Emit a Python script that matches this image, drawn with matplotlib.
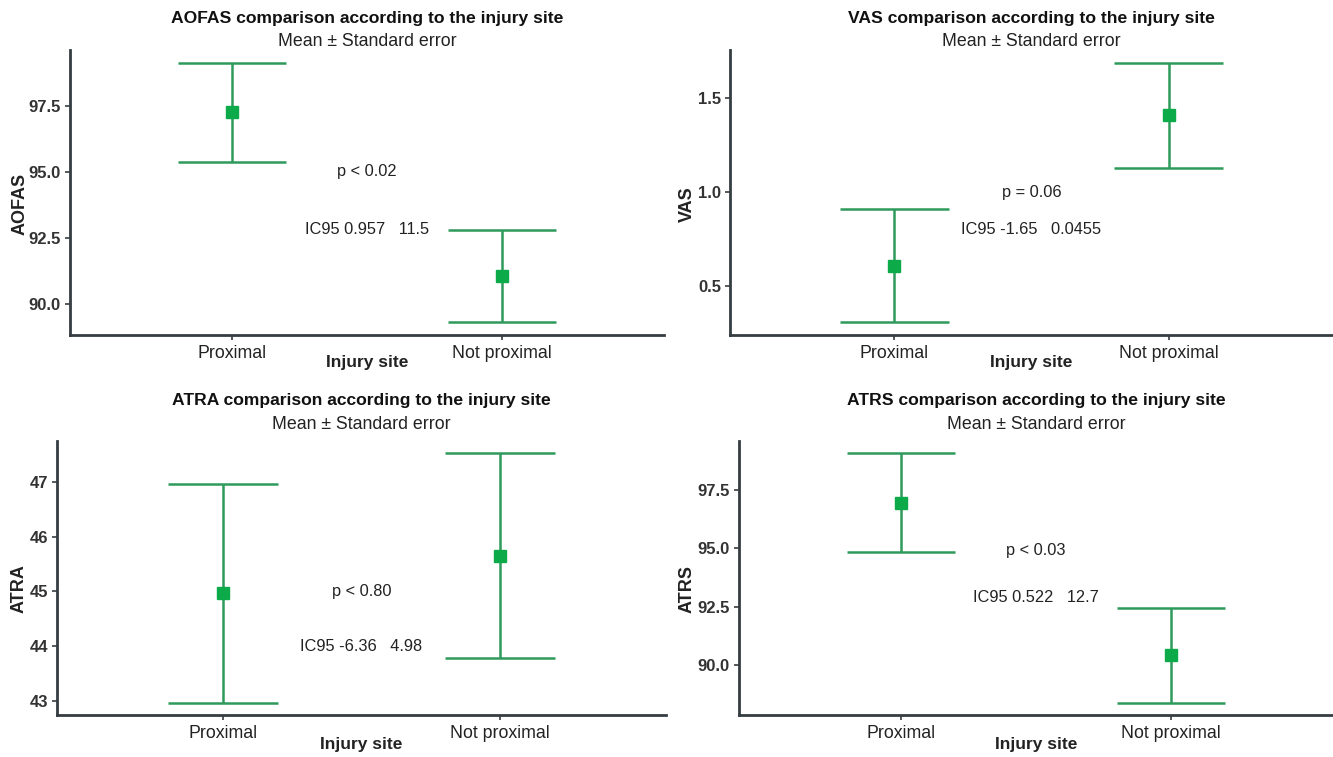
import matplotlib
matplotlib.use("Agg")
import matplotlib.pyplot as plt
from matplotlib import font_manager

# data (mean and standard error per injury site)
sites = ["Proximal", "Not proximal"]

aofas_mean = [97.25, 91.05]
aofas_se = [1.87, 1.74]
vas_mean = [0.606, 1.41]
vas_se = [0.301, 0.28]
atra_mean = [44.97, 45.65]
atra_se = [1.995, 1.865]
atrs_mean = [96.97, 90.40]
atrs_se = [2.12, 2.03]

p_texts = ["p < 0.02", "p = 0.06", "p < 0.80", "p < 0.03"]
ic_texts = ["IC95 0.957   11.5", "IC95 -1.65   0.0455", "IC95 -6.36   4.98", "IC95 0.522   12.7"]

aofas_ticks = [90.0, 92.5, 95.0, 97.5]
vas_ticks = [0.5, 1.0, 1.5]
atra_ticks = [43, 44, 45, 46, 47]
atrs_ticks = [90.0, 92.5, 95.0, 97.5]

available = {f.name for f in font_manager.fontManager.ttflist}
font = "Liberation Sans" if "Liberation Sans" in available else "DejaVu Sans"
plt.rcParams["font.family"] = font

LINE = "#2f9a5c"
MARK = "#0daa4a"
AXC = "#363d42"
W, H = 1333, 757

fig = plt.figure(figsize=(W / 100, H / 100), dpi=100)

# name, means, se, ticks, tick format, stat text y, panel box in pixels (left, right, top, bottom),
# title/subtitle y, x label y, y label x (pixels)
panels = [
    ("AOFAS", aofas_mean, aofas_se, aofas_ticks, "{:.1f}", (95.0, 92.8), (70, 664, 50, 335), (18, 41), 362, 20),
    ("VAS", vas_mean, vas_se, vas_ticks, "{:.1f}", (1.0, 0.80), (730, 1333, 50, 335), (18, 41), 362, 687),
    ("ATRA", atra_mean, atra_se, atra_ticks, "{:d}", (45.0, 44.0), (57, 666, 441, 715), (400, 424), 744, 19),
    ("ATRS", atrs_mean, atrs_se, atrs_ticks, "{:.1f}", (94.9, 92.9), (739, 1333, 441, 715), (400, 424), 744, 687),
]

for i, (name, means, ses, ticks, fmt, ty, box, ttl, xl_y, yl_x) in enumerate(panels):
    l, r, t, b = box
    ax = fig.add_axes([l / W, 1 - b / H, (r - l) / W, (b - t) / H])
    x = list(range(1, len(sites) + 1))
    lo = [m - s for m, s in zip(means, ses)]
    hi = [m + s for m, s in zip(means, ses)]

    ax.vlines(x, lo, hi, color=LINE, lw=1.8, zorder=2)
    ax.hlines(lo, [v - 0.2 for v in x], [v + 0.2 for v in x], color=LINE, lw=1.8, zorder=2)
    ax.hlines(hi, [v - 0.2 for v in x], [v + 0.2 for v in x], color=LINE, lw=1.8, zorder=2)
    ax.plot(x, means, "s", color=MARK, ms=9, zorder=3)

    rng = max(hi) - min(lo)
    ax.set_ylim(min(lo) - 0.05 * rng, max(hi) + 0.05 * rng)
    ax.set_xlim(0.4, 2.6)

    ax.set_xticks(x)
    ax.set_xticklabels(sites, fontsize=12.8, color="#222222")
    ax.set_yticks(ticks)
    ax.set_yticklabels([fmt.format(v) for v in ticks], fontsize=12,
                       fontweight="bold", color="#333333")
    ax.tick_params(axis="both", length=3.5, width=1.2, color=AXC)
    ax.tick_params(axis="x", pad=3.5)
    ax.tick_params(axis="y", pad=3)

    for s in ["top", "right"]:
        ax.spines[s].set_visible(False)
    for s in ["left", "bottom"]:
        ax.spines[s].set_color(AXC)
        ax.spines[s].set_linewidth(2.0)

    ax.set_xlabel("Injury site", fontsize=12.5, fontweight="bold", color="#222222", va="center")
    ax.xaxis.set_label_coords(0.5, -(xl_y - b) / (b - t))
    ax.set_ylabel(name, fontsize=13, fontweight="bold", color="#222222", va="center")
    ax.yaxis.set_label_coords((yl_x - l) / (r - l), 0.46)

    ax.text(1.5, ty[0], p_texts[i], ha="center", va="center", fontsize=11.8, color="#222222",
            bbox=dict(facecolor="white", edgecolor="none", pad=2))
    ax.text(1.5, ty[1], ic_texts[i], ha="center", va="center", fontsize=11.8, color="#222222",
            bbox=dict(facecolor="white", edgecolor="none", pad=2))

    cx = (l + r) / 2 / W
    fig.text(cx, 1 - ttl[0] / H, f"{name} comparison according to the injury site",
             ha="center", va="center", fontsize=12.6, fontweight="bold", color="#111111")
    fig.text(cx, 1 - ttl[1] / H, "Mean \u00b1 Standard error",
             ha="center", va="center", fontsize=12.8, color="#222222")

fig.savefig("out.png", dpi=100, facecolor="white")
